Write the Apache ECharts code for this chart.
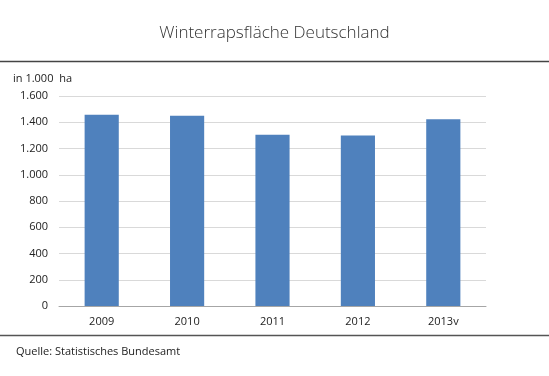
<!DOCTYPE html>
<html>
<head>
<meta charset="utf-8">
<script src="https://cdn.jsdelivr.net/npm/echarts@6/dist/echarts.min.js"></script>
<style>
  html, body { margin: 0; padding: 0; background: #fff; }
  #chart { width: 549px; height: 376px; }
</style>
</head>
<body>
<div id="chart"></div>
<script>
// Daten: Winterrapsfläche in 1.000 ha
const jahre = ['2009', '2010', '2011', '2012', '2013v'];
const flaeche = [1458, 1450, 1304, 1299, 1423];
const achseMax = 1600;
const achseSchritt = 200;

const schrift = '"Open Sans", sans-serif';

// Tausenderpunkt wie im Original (1.600)
function formatZahl(v) {
    return String(v).replace(/\B(?=(\d{3})+(?!\d))/g, '.');
}

const chart = echarts.init(document.getElementById('chart'));

chart.setOption({
    animation: false,
    title: {
        text: 'Winterrapsfläche Deutschland',
        left: 'center',
        top: 20,
        textStyle: {
            fontFamily: schrift,
            fontSize: 17,
            fontWeight: 300,
            color: '#333'
        }
    },
    grid: {
        left: 59,
        right: 63,
        top: 96,
        bottom: 70
    },
    xAxis: {
        type: 'category',
        data: jahre,
        axisTick: { show: false },
        axisLine: { lineStyle: { color: '#A6A6A6', width: 1 } },
        axisLabel: {
            margin: 10,
            fontFamily: schrift,
            fontSize: 11,
            color: '#222'
        }
    },
    yAxis: {
        type: 'value',
        min: 0,
        max: achseMax,
        interval: achseSchritt,
        axisLine: { show: false },
        axisTick: { show: false },
        splitLine: { lineStyle: { color: '#D9D9D9', width: 1 } },
        axisLabel: {
            margin: 11,
            fontFamily: schrift,
            fontSize: 11,
            color: '#222',
            formatter: formatZahl
        }
    },
    series: [
        {
            type: 'bar',
            data: flaeche,
            barWidth: '40%',
            itemStyle: { color: '#4F81BD' }
        }
    ],
    graphic: [
        {
            type: 'line',
            shape: { x1: 0, y1: 61.5, x2: 549, y2: 61.5 },
            style: { stroke: '#444', lineWidth: 1.5 }
        },
        {
            type: 'line',
            shape: { x1: 0, y1: 335.5, x2: 549, y2: 335.5 },
            style: { stroke: '#555', lineWidth: 1.5 }
        },
        {
            type: 'text',
            left: 13,
            top: 73,
            style: {
                text: 'in 1.000  ha',
                font: '11px "Open Sans", sans-serif',
                fill: '#222'
            }
        },
        {
            type: 'text',
            left: 16,
            top: 346,
            style: {
                text: 'Quelle: Statistisches Bundesamt',
                font: '11px "Open Sans", sans-serif',
                fill: '#222'
            }
        }
    ]
});
</script>
</body>
</html>
